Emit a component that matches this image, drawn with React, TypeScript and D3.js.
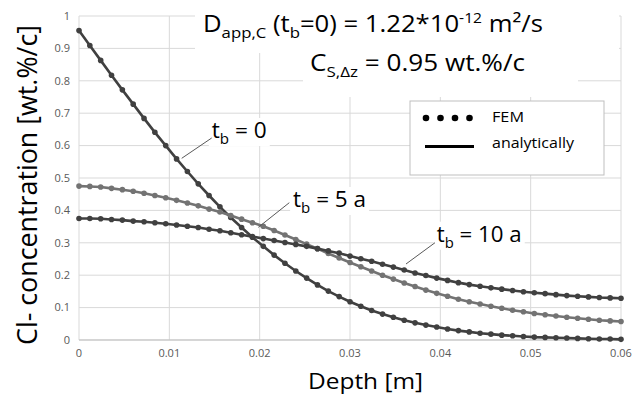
import { line, scaleLinear } from "d3";

// depth of the FEM nodes [mm]
const depthMm = [
  0, 1.2, 2.4, 3.6, 4.8, 6, 7.2, 8.4, 9.6, 10.8, 12, 13.2, 14.4, 15.6, 16.8, 18, 19.2,
  20.4, 21.6, 22.8, 24, 25.2, 26.4, 27.6, 28.8, 30, 31.2, 32.4, 33.6, 34.8, 36, 37.2,
  38.4, 39.6, 40.8, 42, 43.2, 44.4, 45.6, 46.8, 48, 49.2, 50.4, 51.6, 52.8, 54, 55.2,
  56.4, 57.6, 58.8, 60,
];

const tb0 = [
  0.955, 0.909, 0.863, 0.817, 0.772, 0.728, 0.684, 0.641, 0.6, 0.559, 0.52, 0.482, 0.446,
  0.411, 0.378, 0.347, 0.317, 0.289, 0.262, 0.237, 0.213, 0.191, 0.17, 0.151, 0.134,
  0.118, 0.104, 0.091, 0.08, 0.07, 0.061, 0.053, 0.046, 0.04, 0.034, 0.029, 0.025, 0.021,
  0.018, 0.015, 0.013, 0.011, 0.009, 0.008, 0.007, 0.006, 0.005, 0.004, 0.003, 0.003,
  0.002,
];

const tb5 = [
  0.475, 0.474, 0.472, 0.468, 0.464, 0.459, 0.453, 0.446, 0.439, 0.431, 0.423, 0.414,
  0.404, 0.395, 0.384, 0.373, 0.362, 0.351, 0.338, 0.324, 0.31, 0.296, 0.282, 0.267,
  0.253, 0.239, 0.226, 0.213, 0.2, 0.188, 0.176, 0.165, 0.154, 0.144, 0.135, 0.126,
  0.118, 0.111, 0.104, 0.098, 0.092, 0.087, 0.082, 0.078, 0.074, 0.07, 0.067, 0.064,
  0.061, 0.059, 0.057,
];

const tb10 = [
  0.375, 0.375, 0.374, 0.372, 0.37, 0.367, 0.365, 0.362, 0.359, 0.355, 0.351, 0.347,
  0.342, 0.337, 0.331, 0.325, 0.319, 0.313, 0.307, 0.301, 0.295, 0.289, 0.282, 0.275,
  0.268, 0.259, 0.251, 0.243, 0.234, 0.225, 0.216, 0.207, 0.199, 0.191, 0.184, 0.177,
  0.171, 0.166, 0.161, 0.157, 0.153, 0.149, 0.146, 0.143, 0.14, 0.137, 0.135, 0.133,
  0.131, 0.13, 0.129,
];

const xTicks = [0, 0.01, 0.02, 0.03, 0.04, 0.05, 0.06];
const yTicks = [0, 0.1, 0.2, 0.3, 0.4, 0.5, 0.6, 0.7, 0.8, 0.9, 1];

const WIDTH = 641;
const HEIGHT = 397;
const LEFT = 79;
const RIGHT = 621;
const TOP = 16;
const BOTTOM = 340;
const FONT = "'Open Sans', 'DejaVu Sans', sans-serif";

const x = scaleLinear().domain([0, 0.06]).range([LEFT, RIGHT]);
const y = scaleLinear().domain([0, 1]).range([BOTTOM, TOP]);

const series = [
  { name: "tb0", values: tb0, color: "#404040" },
  { name: "tb5", values: tb5, color: "#737373" },
  { name: "tb10", values: tb10, color: "#404040" },
];

// label anchors in data units: text start, leader start, leader end
const labels = [
  { main: "t", sub: "b", rest: " = 0", at: [0.0147, 0.6235], from: [0.01469, 0.6235], to: [0.01137, 0.5608], len: 55 },
  { main: "t", sub: "b", rest: " = 5 a", at: [0.0237, 0.4105], from: [0.02328, 0.4238], to: [0.01985, 0.3478], len: 73 },
  { main: "t", sub: "b", rest: " = 10 a", at: [0.0396, 0.3034], from: [0.03941, 0.3003], to: [0.0362, 0.2346], len: 85 },
];

const mkLine = line<number>()
  .x((_, i) => x(depthMm[i] / 1000))
  .y((v) => y(v));

export default function App() {
  return (
    <svg
      width={WIDTH}
      height={HEIGHT}
      viewBox={`0 0 ${WIDTH} ${HEIGHT}`}
      style={{ position: "absolute", left: 0, top: 0, background: "#fff" }}
      fontFamily={FONT}
    >
      <rect x={0} y={0} width={WIDTH} height={HEIGHT} fill="#fff" />
      {yTicks.map((t) => (
        <line key={`gy${t}`} x1={LEFT} x2={RIGHT} y1={y(t)} y2={y(t)} stroke="#d9d9d9" strokeWidth={1} />
      ))}
      {xTicks.map((t) => (
        <line key={`gx${t}`} x1={x(t)} x2={x(t)} y1={TOP} y2={BOTTOM} stroke="#d9d9d9" strokeWidth={1} />
      ))}
      <line x1={LEFT} x2={RIGHT} y1={BOTTOM} y2={BOTTOM} stroke="#bfbfbf" strokeWidth={1} />

      {yTicks.map((t) => (
        <text key={`ty${t}`} x={LEFT - 9} y={y(t)} dy="0.35em" textAnchor="end" fontSize={11} fill="#595959">
          {String(t)}
        </text>
      ))}
      {xTicks.map((t) => (
        <text key={`tx${t}`} x={x(t)} y={357} textAnchor="middle" fontSize={11} fill="#595959">
          {String(t)}
        </text>
      ))}

      {/* white boxes behind the annotations */}
      <rect x={195} y={0} width={424} height={53} fill="#fff" />
      <rect x={303} y={53} width={275} height={44} fill="#fff" />

      {series.map((s) => (
        <g key={s.name}>
          <path d={mkLine(s.values) ?? ""} fill="none" stroke={s.color} strokeWidth={2.6} />
          {s.values.map((v, i) => (
            <circle key={i} cx={x(depthMm[i] / 1000)} cy={y(v)} r={2.8} fill={s.color} />
          ))}
        </g>
      ))}

      {labels.map((l, i) => {
        const tx = x(l.at[0]);
        const ty = y(l.at[1]);
        return (
          <g key={i}>
            <rect x={tx - 3} y={ty - 20} width={l.len + 6} height={28} fill="#fff" />
            <line x1={x(l.from[0])} y1={y(l.from[1])} x2={x(l.to[0])} y2={y(l.to[1])} stroke="#595959" strokeWidth={1} />
            <text x={tx} y={ty} fontSize={21} fill="#000" textLength={l.len} lengthAdjust="spacingAndGlyphs">
              {l.main}
              <tspan fontSize={14} dy={6}>{l.sub}</tspan>
              <tspan dy={-6}>{l.rest}</tspan>
            </text>
          </g>
        );
      })}

      <text x={203} y={32} fontSize={23} fill="#000" textLength={340} lengthAdjust="spacingAndGlyphs">
        D<tspan fontSize={15} dy={6}>app,C</tspan>
        <tspan dy={-6}> (t</tspan>
        <tspan fontSize={15} dy={6}>b</tspan>
        <tspan dy={-6}>=0) = 1.22*10</tspan>
        <tspan fontSize={14} dy={-9}>-12</tspan>
        <tspan dy={9}> m²/s</tspan>
      </text>
      <text x={310} y={71} fontSize={23} fill="#000" textLength={215} lengthAdjust="spacingAndGlyphs">
        C<tspan fontSize={15} dy={6}>S,Δz</tspan>
        <tspan dy={-6}> = 0.95 wt.%/c</tspan>
      </text>

      {/* legend */}
      <rect x={410} y={101} width={194} height={74} fill="#fff" stroke="#bfbfbf" strokeWidth={1} />
      {[426, 440.5, 455, 469.5].map((cx) => (
        <circle key={cx} cx={cx} cy={118} r={3.3} fill="#000" />
      ))}
      <line x1={425} x2={474} y1={146.5} y2={146.5} stroke="#000" strokeWidth={3} />
      <text x={492} y={122} fontSize={14} fill="#000" textLength={32} lengthAdjust="spacingAndGlyphs">FEM</text>
      <text x={492} y={148} fontSize={15} fill="#000" textLength={82} lengthAdjust="spacingAndGlyphs">analytically</text>

      <text
        transform={`translate(37,${(25 + 345) / 2}) rotate(-90)`}
        textAnchor="middle"
        fontSize={28}
        fill="#000"
        textLength={320}
        lengthAdjust="spacingAndGlyphs"
      >
        Cl- concentration [wt.%/c]
      </text>
      <text x={308} y={389} fontSize={22} fill="#000" textLength={115} lengthAdjust="spacingAndGlyphs">
        Depth [m]
      </text>
    </svg>
  );
}
